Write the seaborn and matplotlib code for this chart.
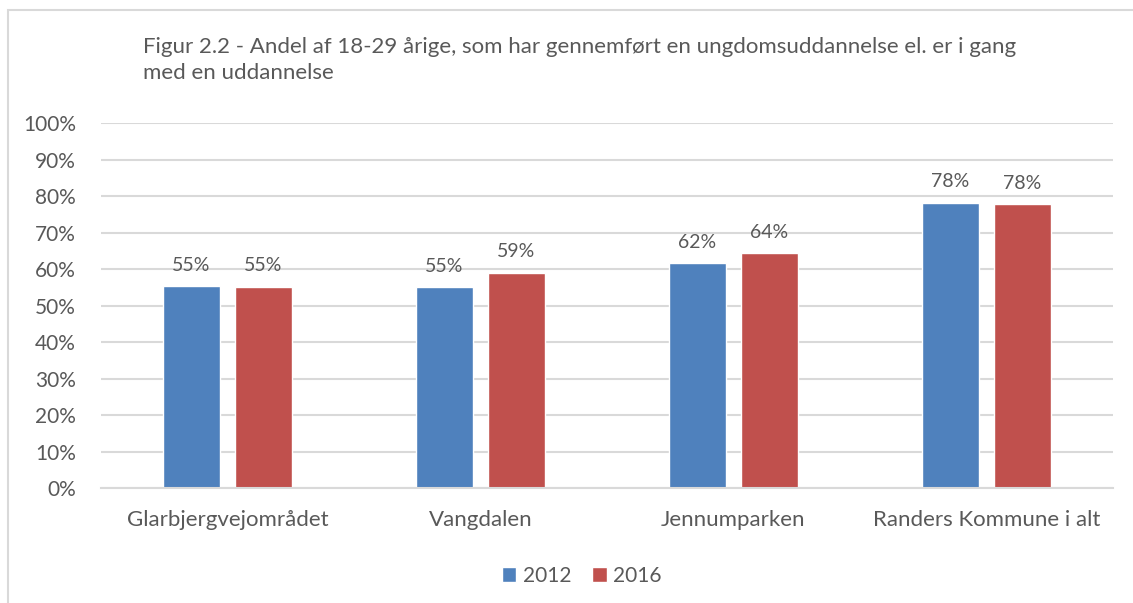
import pandas as pd
import matplotlib.pyplot as plt
import seaborn as sns
from matplotlib.patches import Rectangle

# data
omraader = ['Glarbjergvejområdet', 'Vangdalen', 'Jennumparken', 'Randers Kommune i alt']
aar = ['2012', '2016']
andel_2012 = [55.3, 55.0, 61.6, 78.2]
andel_2016 = [55.2, 59.0, 64.3, 77.8]
y_ticks = list(range(0, 101, 10))
titel = ('Figur 2.2 - Andel af 18-29 årige, som har gennemført en ungdomsuddannelse el. er i gang\n'
         'med en uddannelse')

farver = {'2012': '#4F81BD', '2016': '#C0504D'}
tekst_farve = '#595959'
grid_farve = '#D9D9D9'

df = pd.DataFrame({
    'omraade': omraader * 2,
    'aar': ['2012'] * len(omraader) + ['2016'] * len(omraader),
    'andel': andel_2012 + andel_2016,
})

sns.set_theme(style='white')
plt.rcParams['font.family'] = ['Lato', 'DejaVu Sans']

fig = plt.figure(figsize=(11.33, 6.03), dpi=100)
ax = fig.add_axes([0.0891, 0.1907, 0.8932, 0.6053])

sns.barplot(data=df, x='omraade', y='andel', hue='aar', hue_order=aar,
            order=omraader, palette=farver, width=0.57, gap=0.22,
            saturation=1, ax=ax, legend=True)

ax.set_ylim(0, 100)
ax.set_yticks(y_ticks)
ax.set_yticklabels([f'{t}%' for t in y_ticks])
ax.set_xlim(-0.5, len(omraader) - 0.5)
ax.grid(axis='y', color=grid_farve, linewidth=1.5)
ax.set_axisbelow(True)
for s in ['top', 'right', 'left']:
    ax.spines[s].set_visible(False)
ax.spines['bottom'].set_color(grid_farve)
ax.spines['bottom'].set_linewidth(1.5)
ax.tick_params(axis='y', length=0, pad=18, labelsize=15, labelcolor=tekst_farve)
ax.tick_params(axis='x', length=0, pad=16, labelsize=16, labelcolor=tekst_farve)
ax.set_xlabel('')
ax.set_ylabel('')

for cont in ax.containers:
    ax.bar_label(cont, labels=[f'{v:.0f}%' for v in cont.datavalues],
                 padding=9, fontsize=14, color=tekst_farve)

ax.legend(loc='center', bbox_to_anchor=(0.475, -0.24), ncol=2, frameon=False,
          fontsize=15, handlelength=0.7, handleheight=0.7, handletextpad=0.3,
          columnspacing=1.0, labelcolor=tekst_farve)

fig.text(143 / 1133, 1 - 37 / 603, titel, ha='left', va='top', fontsize=16,
         color=tekst_farve, linespacing=1.4)

fig.patches.append(Rectangle((8 / 1133, -0.1), 1.2, 1 - 10 / 603 + 0.1,
                             transform=fig.transFigure, fill=False,
                             edgecolor=grid_farve, linewidth=1.5))

fig.savefig('out.png', dpi=100)
